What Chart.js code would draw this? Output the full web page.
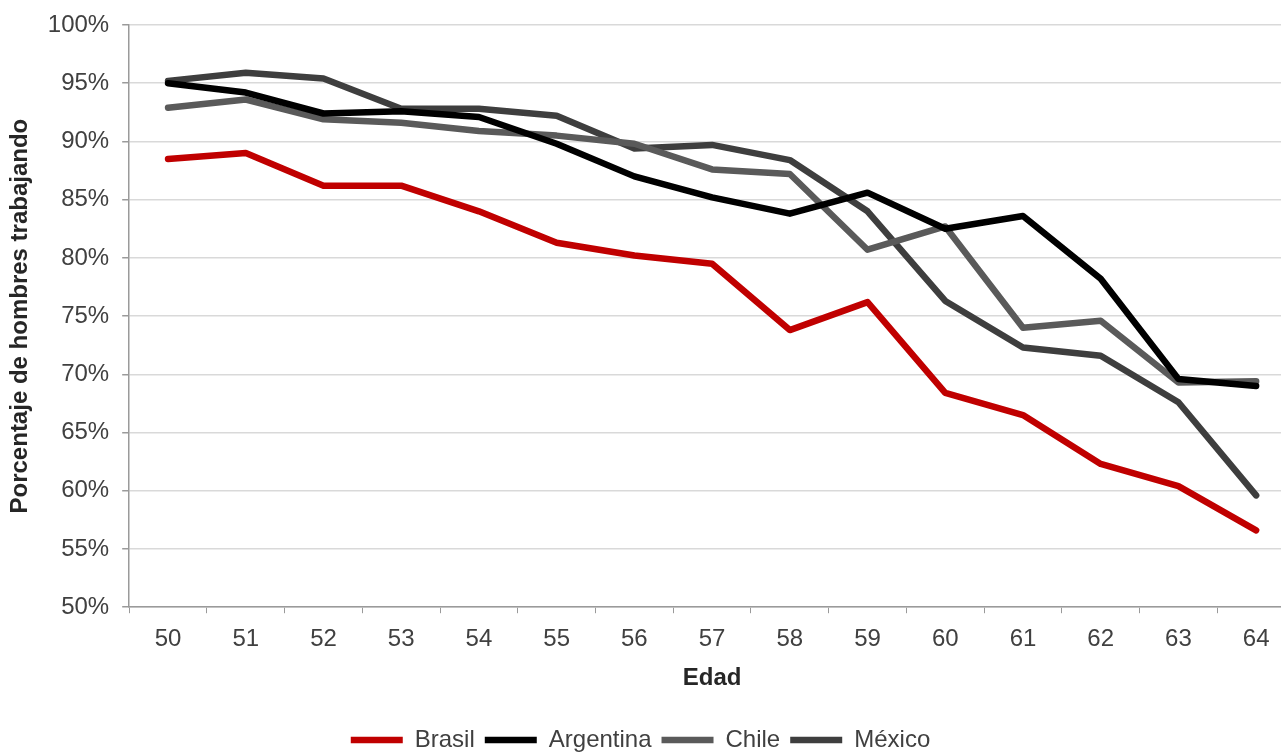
<!DOCTYPE html>
<html>
<head>
<meta charset="utf-8">
<script src="https://cdn.jsdelivr.net/npm/chart.js@4.4.0/dist/chart.umd.min.js"></script>
<style>
html,body{margin:0;padding:0;background:#fff;overflow:hidden;}
#wrap{width:1281px;height:752px;overflow:hidden;}
</style>
</head>
<body>
<div id="wrap"><canvas id="c" width="1295" height="752"></canvas></div>
<script>
const ages = ['50','51','52','53','54','55','56','57','58','59','60','61','62','63','64'];
const brasil    = [88.5, 89.0, 86.2, 86.2, 84.0, 81.3, 80.2, 79.5, 73.8, 76.2, 68.4, 66.5, 62.3, 60.4, 56.6];
const argentina = [95.0, 94.2, 92.4, 92.6, 92.1, 89.8, 87.0, 85.2, 83.8, 85.6, 82.5, 83.6, 78.2, 69.6, 69.0];
const chile     = [92.9, 93.6, 91.9, 91.6, 90.9, 90.5, 89.8, 87.6, 87.2, 80.7, 82.7, 74.0, 74.6, 69.3, 69.4];
const mexico    = [95.2, 95.9, 95.4, 92.8, 92.8, 92.2, 89.4, 89.7, 88.4, 84.0, 76.3, 72.3, 71.6, 67.6, 59.6];
const yTicks = [50, 55, 60, 65, 70, 75, 80, 85, 90, 95, 100];

const FONT = 'Liberation Sans, Arial, sans-serif';
function ds(label, data, color){
  return {label, data, borderColor:color, backgroundColor:color, borderWidth:6.5,
    pointRadius:0, pointHoverRadius:0, tension:0, borderCapStyle:'round', borderJoinStyle:'round', fill:false};
}
const legendShift = {
  id:'legendShift',
  afterLayout(chart){
    const lg = chart.legend;
    lg.left -= 10; lg.right -= 10;
    lg.top += 28; lg.bottom += 28;
  }
};
new Chart(document.getElementById('c'), {
  type:'line',
  data:{labels:ages, datasets:[
    ds('Brasil', brasil, '#c00000'),
    ds('Argentina', argentina, '#000000'),
    ds('Chile', chile, '#5a5a5a'),
    ds('México', mexico, '#3e3e3e')
  ]},
  plugins:[legendShift],
  options:{
    responsive:false, animation:false,
    layout:{padding:{top:6, right:0, left:6, bottom:18}},
    plugins:{
      tooltip:{enabled:false},
      legend:{position:'bottom', labels:{usePointStyle:true, pointStyle:'line', pointStyleWidth:52,
        boxHeight:24, color:'#404040', font:{family:FONT, size:24}, padding:10}},
    },
    scales:{
      x:{offset:true,
        grid:{offset:true, drawOnChartArea:false, drawTicks:true, tickLength:6, color:'#9a9a9a', tickColor:'#9a9a9a'},
        border:{color:'#9a9a9a', width:1.5},
        ticks:{color:'#404040', font:{family:FONT, size:24}, padding:12, maxRotation:0},
        title:{display:true, text:'Edad', color:'#262626', font:{family:FONT, size:24, weight:'bold', lineHeight:1.0}, padding:{top:0, bottom:0}}
      },
      y:{min:50, max:100,
        afterBuildTicks:(axis)=>{ axis.ticks = yTicks.map(v=>({value:v})); },
        grid:{color:'#d9d9d9', lineWidth:1.5, tickLength:7, tickColor:'#9a9a9a'},
        border:{color:'#9a9a9a', width:1.5},
        ticks:{color:'#404040', font:{family:FONT, size:24, lineHeight:1.0}, padding:13, callback:(v)=>v+'%'},
        title:{display:true, text:'Porcentaje de hombres trabajando', color:'#262626', font:{family:FONT, size:24, weight:'bold'}, padding:{top:0,bottom:0}}
      }
    }
  }
});
</script>
</body>
</html>
